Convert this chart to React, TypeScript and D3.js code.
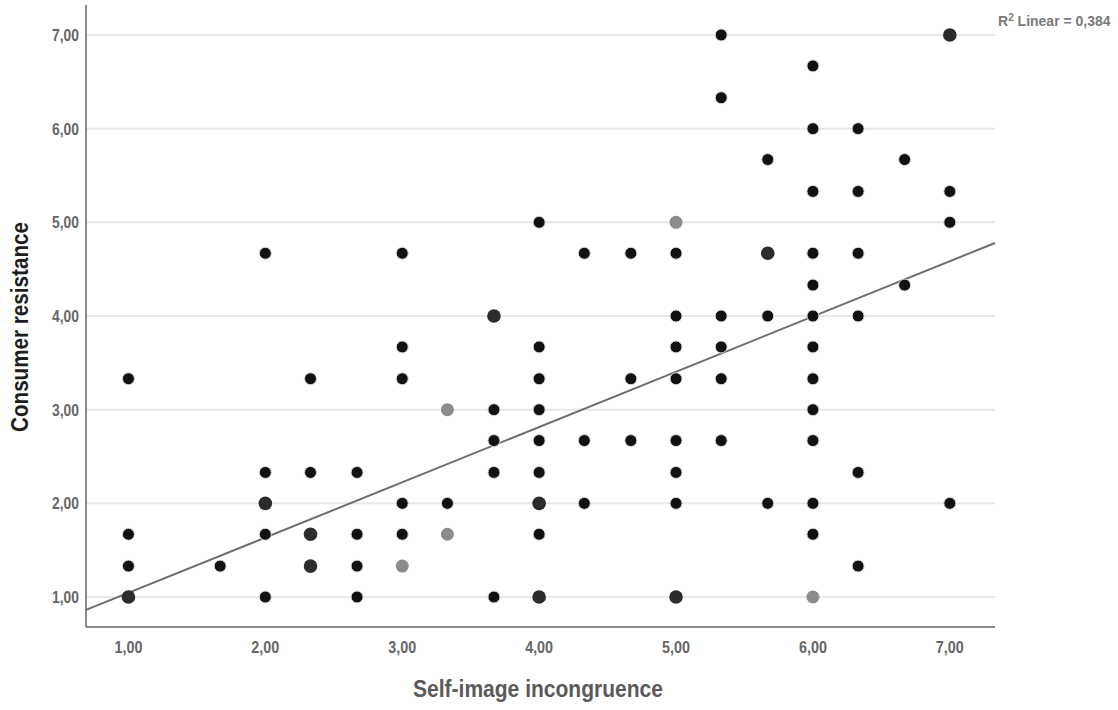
import React from "react";
import * as d3 from "d3";

// ---- data ----
const xTicks = [1, 2, 3, 4, 5, 6, 7];
const yTicks = [1, 2, 3, 4, 5, 6, 7];
const tickLabels = ["1,00", "2,00", "3,00", "4,00", "5,00", "6,00", "7,00"];

const blackPoints: [number, number][] = [
  [1, 3.33], [1, 1.67], [1, 1.33],
  [1.67, 1.33],
  [2, 4.67], [2, 2.33], [2, 1.67], [2, 1.0],
  [2.33, 3.33], [2.33, 2.33],
  [2.67, 2.33], [2.67, 1.67], [2.67, 1.33], [2.67, 1.0],
  [3, 4.67], [3, 3.67], [3, 3.33], [3, 2.0], [3, 1.67],
  [3.33, 2.0],
  [3.67, 3.0], [3.67, 2.67], [3.67, 2.33], [3.67, 1.0],
  [4, 5.0], [4, 3.67], [4, 3.33], [4, 3.0], [4, 2.67], [4, 2.33], [4, 1.67],
  [4.33, 4.67], [4.33, 2.67], [4.33, 2.0],
  [4.67, 4.67], [4.67, 3.33], [4.67, 2.67],
  [5, 4.67], [5, 4.0], [5, 3.67], [5, 3.33], [5, 2.67], [5, 2.33], [5, 2.0],
  [5.33, 7.0], [5.33, 6.33], [5.33, 4.0], [5.33, 3.67], [5.33, 3.33], [5.33, 2.67],
  [5.67, 5.67], [5.67, 4.0], [5.67, 2.0],
  [6, 6.67], [6, 6.0], [6, 5.33], [6, 4.67], [6, 4.33], [6, 4.0], [6, 3.67],
  [6, 3.33], [6, 3.0], [6, 2.67], [6, 2.0], [6, 1.67],
  [6.33, 6.0], [6.33, 5.33], [6.33, 4.67], [6.33, 4.0], [6.33, 2.33], [6.33, 1.33],
  [6.67, 5.67], [6.67, 4.33],
  [7, 5.33], [7, 5.0], [7, 2.0],
];

const darkPoints: [number, number][] = [
  [1, 1.0], [2, 2.0], [2.33, 1.67], [2.33, 1.33], [3.67, 4.0],
  [4, 2.0], [4, 1.0], [5, 1.0], [5.67, 4.67], [7, 7.0],
];

const grayPoints: [number, number][] = [
  [3, 1.33], [3.33, 3.0], [3.33, 1.67], [5, 5.0], [6, 1.0],
];

const fitIntercept = 0.455;
const fitSlope = 0.59;
const r2Value = "0,384";

const xDomain = [0.69, 7.33];
const yDomain = [0.68, 7.32];

export default function App() {
  const W = 1118;
  const H = 710;
  const left = 86;
  const right = 995;
  const top = 5;
  const bottom = 627;

  const x = d3.scaleLinear().domain(xDomain).range([left, right]);
  const y = d3.scaleLinear().domain(yDomain).range([bottom, top]);

  const line = d3
    .line<number>()
    .x((v) => x(v))
    .y((v) => y(fitIntercept + fitSlope * v));

  const font = "'Liberation Sans', Arial, sans-serif";

  return (
    <svg
      width={W}
      height={H}
      style={{ position: "absolute", left: 0, top: 0, background: "#fff" }}
      fontFamily={font}
    >
      {/* gridlines */}
      {yTicks.map((t) => (
        <line
          key={"g" + t}
          x1={left}
          x2={right}
          y1={y(t)}
          y2={y(t)}
          stroke="#e8e8e8"
          strokeWidth={2}
        />
      ))}
      {/* axes */}
      <line x1={left} x2={left} y1={top} y2={bottom} stroke="#8a8a8a" strokeWidth={2} />
      <line x1={left} x2={right} y1={bottom} y2={bottom} stroke="#8a8a8a" strokeWidth={2} />

      {/* y tick labels */}
      {yTicks.map((t, i) => (
        <text
          key={"yl" + t}
          x={79}
          y={y(t)}
          dy="0.36em"
          textAnchor="end"
          fontSize={17}
          fontWeight="bold"
          fill="#666"
          textLength={27}
          lengthAdjust="spacingAndGlyphs"
        >
          {tickLabels[i]}
        </text>
      ))}
      {/* x tick labels */}
      {xTicks.map((t, i) => (
        <text
          key={"xl" + t}
          x={x(t) - 14}
          y={653}
          fontSize={17}
          fontWeight="bold"
          fill="#666"
          textLength={28}
          lengthAdjust="spacingAndGlyphs"
        >
          {tickLabels[i]}
        </text>
      ))}

      {/* regression line */}
      <path d={line(xDomain) || ""} stroke="#6e6e6e" strokeWidth={2} fill="none" />

      {/* points */}
      {blackPoints.map((p, i) => (
        <circle key={"b" + i} cx={x(p[0])} cy={y(p[1])} r={6} fill="#111" stroke="#ddd" strokeWidth={1} />
      ))}
      {darkPoints.map((p, i) => (
        <circle key={"d" + i} cx={x(p[0])} cy={y(p[1])} r={6.8} fill="#2c2c2c" />
      ))}
      {grayPoints.map((p, i) => (
        <circle key={"gr" + i} cx={x(p[0])} cy={y(p[1])} r={6.5} fill="#8c8c8c" />
      ))}

      {/* R2 label */}
      <text x={998} y={26} fontSize={14} fontWeight="bold" fill="#7a7a7a">
        R<tspan dy={-5} fontSize={10}>2</tspan>
        <tspan dy={5}> Linear = {r2Value}</tspan>
      </text>

      {/* axis titles */}
      <text
        x={413}
        y={697}
        fontSize={23}
        fontWeight="bold"
        fill="#5a5a5a"
        textLength={250}
        lengthAdjust="spacingAndGlyphs"
      >
        Self-image incongruence
      </text>
      <text
        transform={`translate(28,432) rotate(-90)`}
        fontSize={23}
        fontWeight="bold"
        fill="#1e1e1e"
        textLength={210}
        lengthAdjust="spacingAndGlyphs"
      >
        Consumer resistance
      </text>
    </svg>
  );
}
